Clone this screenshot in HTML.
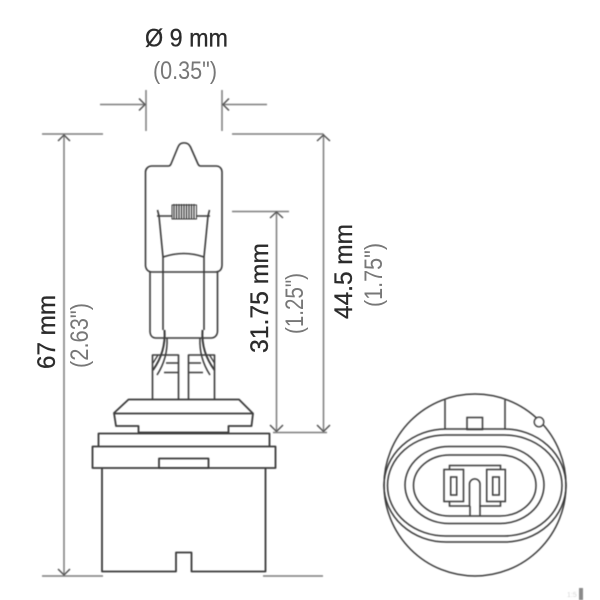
<!DOCTYPE html>
<html>
<head>
<meta charset="utf-8">
<style>
html,body{margin:0;padding:0;background:#fff;width:600px;height:600px;overflow:hidden}
svg{display:block}
text{font-family:"Liberation Sans",sans-serif}
.d{font-size:25px;fill:#2b2b2b;stroke:#2b2b2b;stroke-width:.3}
.g{font-size:25px;fill:#777}
</style>
</head>
<body>
<svg width="600" height="600" viewBox="0 0 600 600" xmlns="http://www.w3.org/2000/svg">
<defs><filter id="b" x="-5%" y="-5%" width="110%" height="110%"><feGaussianBlur stdDeviation="0.4"/></filter></defs>

<g filter="url(#b)">
<!-- dimension lines -->
<g fill="none" stroke="#7d7d7d" stroke-width="1.5">
  <path d="M146 90V131M222 90V131"/>
  <path d="M100 104.500H145M222 104.500H267"/>
  <path d="M139 98.500L145 104.500L139 110.500M229 98.500L223 104.500L229 110.500" stroke="#555"/>
  <path d="M42 134H103M232 134H323.500"/>
  <path d="M42 576H103M263 576H323"/>
  <path d="M64 134V575"/>
  <path d="M58 141L64 135L70 141M58 569L64 575L70 569" stroke="#555"/>
  <path d="M323.500 134V432"/>
  <path d="M317 141L323.500 135L330 141M317 425L323.500 431.500L330 425" stroke="#555"/>
  <path d="M232 211.500H289"/>
  <path d="M276.500 212V432"/>
  <path d="M270 218L276.500 212L283 218M270 425L276.500 431.500L283 425" stroke="#555"/>
  <path d="M273 432.500H327"/>
</g>

<!-- bulb -->
<g fill="none" stroke="#3a3a3a" stroke-width="1.6" stroke-linejoin="round">
  <path d="M152 166H168.500C170 166 170.500 165 171 164L178 147C180 141.500 188 141.500 190.500 147L198 164C198.500 165 199 166 200.500 166H216C220 166 222 169 222 172V265C222 270 219 272 215 272H152C148 272 145.500 269 145.500 265V172C145.500 169 148 166 152 166Z"/>
  <path d="M150 272V331C150 335 152 338 156 338H211C215 338 217.500 335 217.500 331V272"/>
  <path d="M163 257V330M204 257V330"/>
  <path d="M157.500 210L159 216L163 257M209.500 210L208 216L204 257"/>
  <path d="M163 257Q184 250 204 257"/>
  <path d="M157 216H172M196 216H210"/>
  <path d="M172 205H196.500V219H172Z" stroke-width="1"/>
  <path d="M174 204V219M176.500 204V219M179 204V219M181.500 204V219M184 204V219M186.500 204V219M189 204V219M191.500 204V219M194 204V219" stroke-width="1.300"/>
  <!-- leads -->
  <path d="M164.500 330Q166 352 153 370M202.500 330Q201 352 214.500 370" stroke-width="2"/>
  <path d="M167 338Q168 358 157 375M200 338Q199 358 210 375" stroke-width="1.500"/>
  <path d="M153 363L158 355M214.500 363L209.500 355" stroke-width="1.300"/>
  <!-- terminals -->
  <path d="M152.500 399V355H178.500V399M188.500 399V355H214.500V399"/>
  <path d="M166 363H178.500M164 372.500H178.500M188.500 363H201M188.500 372.500H203"/>
  <!-- flange -->
  <path d="M114 413L128.500 399.500H239L253 413.500L251.500 426H228.500V432.500H138.500V426H116Z" stroke-width="1.800"/>
  <path d="M114 413.500H253" stroke-width="1.800"/>
  <!-- base -->
  <path d="M98.500 446.500V433.500H269.500V446.500" stroke-width="1.800"/>
  <rect x="92.500" y="446.500" width="183" height="21.500" stroke-width="1.800"/>
  <rect x="159" y="458.500" width="49.500" height="9.500" stroke-width="1.800"/>
  <path d="M102 468V571.500H176V552.500H191.500V571.500H265.500V468" stroke-width="1.800"/>
</g>

<!-- connector -->
<g fill="none" stroke="#3a3a3a" stroke-width="1.500">
  <circle cx="475" cy="485" r="91"/>
  <rect x="384" y="429" width="182" height="113" rx="62" ry="56.500"/>
  <rect x="387.500" y="435" width="174.500" height="101" rx="58" ry="50.500"/>
  <rect x="405" y="446.500" width="139" height="77" rx="44" ry="38.500"/>
  <rect x="413.500" y="455" width="122.500" height="61" rx="36" ry="30.500"/>
  <path d="M445 400V429M505 400V429"/>
  <rect x="467" y="417.500" width="15.500" height="12"/>
  <circle cx="539" cy="422" r="4.700" fill="#fff"/>
  <rect x="444" y="469.500" width="19.500" height="32"/>
  <rect x="486.700" y="469.500" width="18.600" height="32"/>
  <path d="M449.500 469.500V465.500H500.500V469.500"/>
  <rect x="450.700" y="477" width="6" height="18"/>
  <rect x="492.700" y="477" width="6.500" height="18"/>
  <path d="M449.500 501.500V506H469.500V483.500A5.300 5.300 0 0 1 480 483.500V506H500.500V501.500"/>
  <path d="M470 506V515.500M480 506V515.500"/>
</g>

<!-- artifact -->
<rect x="579" y="588" width="4" height="12" fill="#8a8a8a"/>
<text x="567" y="597" font-size="7" fill="#d8d8d8">1:5</text>
</g>

<!-- labels -->
<text class="d" x="145" y="46.500" textLength="83" lengthAdjust="spacingAndGlyphs">Ø 9 mm</text>
<text class="g" x="153" y="79" textLength="64" lengthAdjust="spacingAndGlyphs">(0.35")</text>
<text class="d" transform="translate(55,369) rotate(-90)" textLength="74" lengthAdjust="spacingAndGlyphs">67 mm</text>
<text class="g" transform="translate(88,368) rotate(-90)" textLength="65" lengthAdjust="spacingAndGlyphs">(2.63")</text>
<text class="d" transform="translate(268,353) rotate(-90)" textLength="110" lengthAdjust="spacingAndGlyphs">31.75 mm</text>
<text class="g" transform="translate(303,334) rotate(-90)" textLength="61" lengthAdjust="spacingAndGlyphs">(1.25")</text>
<text class="d" transform="translate(352,319) rotate(-90)" textLength="95" lengthAdjust="spacingAndGlyphs">44.5 mm</text>
<text class="g" transform="translate(382,307) rotate(-90)" textLength="64" lengthAdjust="spacingAndGlyphs">(1.75")</text>
</svg>
</body>
</html>
